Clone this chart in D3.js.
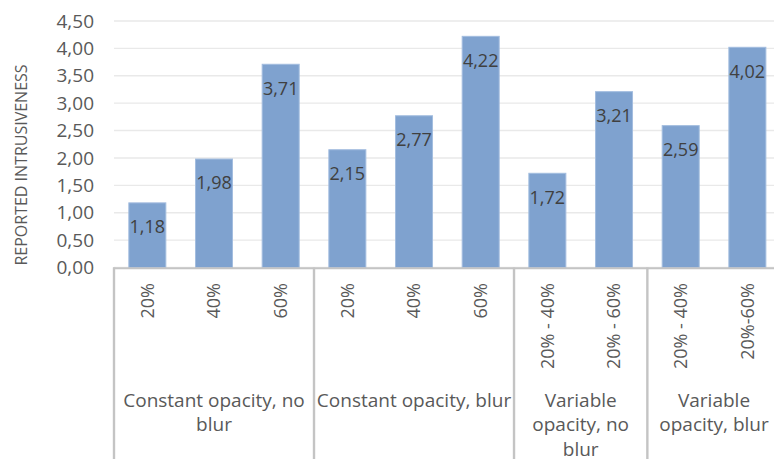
<!DOCTYPE html>
<html>
<head>
<meta charset="utf-8">
<script src="https://cdn.jsdelivr.net/npm/d3@7"></script>
<style>
  html, body { margin: 0; padding: 0; background: #fff; }
  svg { display: block; font-family: "Open Sans", sans-serif; }
</style>
</head>
<body>
<svg id="chart" width="774" height="459"></svg>
<script>
// Reported intrusiveness per opacity condition
const categories = ["20%", "40%", "60%", "20%", "40%", "60%", "20% - 40%", "20% - 60%", "20% - 40%", "20%-60%"];
const values = [1.18, 1.98, 3.71, 2.15, 2.77, 4.22, 1.72, 3.21, 2.59, 4.02];
const groupLabels = [
  ["Constant opacity, no", "blur"],
  ["Constant opacity, blur"],
  ["Variable", "opacity, no", "blur"],
  ["Variable", "opacity, blur"]
];
const groupSizes = [3, 3, 2, 2];
const yTicks = [0, 0.5, 1, 1.5, 2, 2.5, 3, 3.5, 4, 4.5];
const yTitle = "REPORTED INTRUSIVENESS";

const svg = d3.select("#chart");
const plotLeft = 114, plotRight = 780.7, plotTop = 21, plotBottom = 267.5;
const fmt = v => d3.format(".2f")(v).replace(".", ",");

const x = d3.scaleBand()
  .domain(d3.range(categories.length))
  .range([plotLeft, plotRight])
  .paddingInner(0.445)
  .paddingOuter(0.2225);
const y = d3.scaleLinear().domain([0, 4.5]).range([plotBottom, plotTop]);

// gridlines
svg.append("g").selectAll("line").data(yTicks).join("line")
  .attr("x1", plotLeft).attr("x2", 774)
  .attr("y1", d => y(d)).attr("y2", d => y(d))
  .attr("stroke", "#e9e9e9").attr("stroke-width", 1.4);

// y axis labels
const yAxis = svg.append("g")
  .attr("transform", `translate(${plotLeft - 20},0)`)
  .call(d3.axisLeft(y).tickValues(yTicks).tickFormat(fmt).tickSize(0).tickPadding(0));
yAxis.select(".domain").remove();
yAxis.selectAll("text")
  .attr("fill", "#595959")
  .style("font-size", "19px")
  .style("font-family", "'Open Sans', sans-serif");

// y axis title
svg.append("text")
  .attr("transform", `translate(21,165) rotate(-90)`)
  .attr("text-anchor", "middle")
  .attr("dy", "0.35em")
  .attr("fill", "#595959")
  .style("font-size", "16px")
  .text(yTitle);

// bars
svg.append("g").selectAll("rect").data(values).join("rect")
  .attr("x", (d, i) => x(i))
  .attr("width", x.bandwidth())
  .attr("y", d => y(d))
  .attr("height", d => y(0) - y(d))
  .attr("fill", "#7fa2cf")
  .attr("stroke", "#a3bddf")
  .attr("stroke-width", 1);

// value labels
svg.append("g").selectAll("text").data(values).join("text")
  .attr("x", (d, i) => x(i) + x.bandwidth() / 2)
  .attr("y", d => y(d) + 24)
  .attr("dy", "0.35em")
  .attr("text-anchor", "middle")
  .attr("fill", "#404040")
  .style("font-size", "18px")
  .text(fmt);

// category axis frame
const axisColor = "#c4c4c4";
svg.append("line")
  .attr("x1", plotLeft - 1).attr("x2", 774)
  .attr("y1", plotBottom + 0.8).attr("y2", plotBottom + 0.8)
  .attr("stroke", axisColor).attr("stroke-width", 2);

const bounds = [0];
groupSizes.forEach((n, i) => bounds.push(bounds[i] + n));
const step = x.step();
const edge = i => plotLeft + i * step;

svg.append("g").selectAll("line").data(bounds).join("line")
  .attr("x1", d => edge(d)).attr("x2", d => edge(d))
  .attr("y1", plotBottom).attr("y2", 459)
  .attr("stroke", axisColor).attr("stroke-width", 2.4);

// category labels (rotated)
svg.append("g").selectAll("text").data(categories).join("text")
  .attr("transform", (d, i) => `translate(${x(i) + x.bandwidth() / 2},283) rotate(-90)`)
  .attr("text-anchor", "end")
  .attr("dy", "0.35em")
  .attr("fill", "#595959")
  .style("font-size", "18px")
  .text(d => d);

// group labels
const gl = svg.append("g").selectAll("text").data(groupLabels).join("text")
  .attr("x", (d, i) => (edge(bounds[i]) + edge(bounds[i + 1])) / 2)
  .attr("y", 406.5)
  .attr("text-anchor", "middle")
  .attr("fill", "#595959")
  .style("font-size", "19px");
gl.selectAll("tspan").data(d => d).join("tspan")
  .attr("x", function () { return d3.select(this.parentNode).attr("x"); })
  .attr("dy", (d, i) => i === 0 ? 0 : 24.6)
  .text(d => d);
</script>
</body>
</html>
